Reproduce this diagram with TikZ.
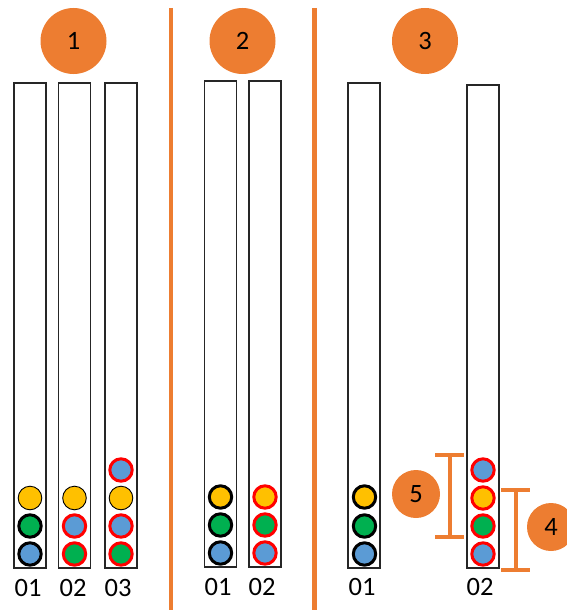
\documentclass[tikz,border=0pt]{standalone}
\usepackage{fontspec}
\setmainfont{Carlito}
\definecolor{accent}{HTML}{ED7D31}
\definecolor{ballY}{HTML}{FFC000}
\definecolor{ballG}{HTML}{00B050}
\definecolor{ballB}{HTML}{5B9BD5}
\definecolor{ringR}{HTML}{FF0000}
\begin{document}
\begin{tikzpicture}[x=1pt,y=-1pt,
  tube/.style={draw=black!85,line width=1.4pt,fill=white},
  badge/.style={circle,fill=accent,inner sep=0pt,font=\fontsize{26.5}{26.5}\selectfont},
  bigbadge/.style={badge,minimum size=66pt},
  smallbadge/.style={badge,minimum size=48pt},
  ball/.style={circle,inner sep=0pt,minimum size=22.4pt,line width=3pt},
  plain/.style={ball,draw=black,line width=0.9pt,minimum size=23.6pt},
  blk/.style={ball,draw=black},
  red/.style={ball,draw=ringR},
  tag/.style={font=\fontsize{26.5}{26.5}\selectfont,inner sep=0pt},
  divider/.style={draw=accent,line width=4.5pt},
  bracket/.style={draw=accent,line width=4pt}]
\useasboundingbox (0,0) rectangle (566,610);

% section dividers
\draw[divider] (171,8) -- (171,610);
\draw[divider] (314.5,8) -- (314.5,610);

% step badges
\node[bigbadge] (s1) at (73.5,41) {1};
\node[bigbadge] (s2) at (242.5,41) {2};
\node[bigbadge] (s3) at (425,41) {3};

% section 1 tubes
\draw[tube] (14,83) rectangle (46,568);
\draw[tube] (58.5,83) rectangle (90.5,568);
\draw[tube] (105,83) rectangle (137,568);
\node[blk,fill=ballB] (a1) at (30,554) {};
\node[blk,fill=ballG] (a2) at (30,526) {};
\node[plain,fill=ballY] (a3) at (30,498) {};
\node[red,fill=ballG] (b1) at (74.5,554) {};
\node[red,fill=ballB] (b2) at (74.5,526) {};
\node[plain,fill=ballY] (b3) at (74.5,498) {};
\node[red,fill=ballG] (c1) at (121,554) {};
\node[red,fill=ballB] (c2) at (121,526) {};
\node[plain,fill=ballY] (c3) at (121,498) {};
\node[red,fill=ballB] (c4) at (121,470) {};
\node[tag] (la) at (28,588) {01};
\node[tag] (lb) at (73,588) {02};
\node[tag] (lc) at (118,588) {03};

% section 2 tubes
\draw[tube] (204.5,81) rectangle (236.5,567);
\draw[tube] (249,81) rectangle (281,567);
\node[blk,fill=ballB] (d1) at (220.5,553) {};
\node[blk,fill=ballG] (d2) at (220.5,525) {};
\node[blk,fill=ballY] (d3) at (220.5,497) {};
\node[red,fill=ballB] (e1) at (265,553) {};
\node[red,fill=ballG] (e2) at (265,525) {};
\node[red,fill=ballY] (e3) at (265,497) {};
\node[tag] (ld) at (218,587) {01};
\node[tag] (le) at (262,587) {02};

% section 3 tubes
\draw[tube] (348,83) rectangle (380,568);
\draw[tube] (467,85) rectangle (499,568);
\node[blk,fill=ballB] (f1) at (364.5,554) {};
\node[blk,fill=ballG] (f2) at (364.5,526) {};
\node[blk,fill=ballY] (f3) at (364.5,497) {};
\node[red,fill=ballB] (g1) at (483,554) {};
\node[red,fill=ballG] (g2) at (483,526) {};
\node[red,fill=ballY] (g3) at (483,498) {};
\node[red,fill=ballB] (g4) at (483,470) {};
\node[tag] (lf) at (362,587) {01};
\node[tag] (lg) at (480,587) {02};

% span markers
\draw[bracket] (435,455) -- (464,455) (449.5,455) -- (449.5,537) (435,537) -- (464,537);
\draw[bracket] (501,490) -- (530,490) (516,490) -- (516,570) (501,570) -- (530,570);
\node[smallbadge] (s5) at (416,494) {5};
\node[smallbadge] (s4) at (551,527) {4};
\end{tikzpicture}
\end{document}
